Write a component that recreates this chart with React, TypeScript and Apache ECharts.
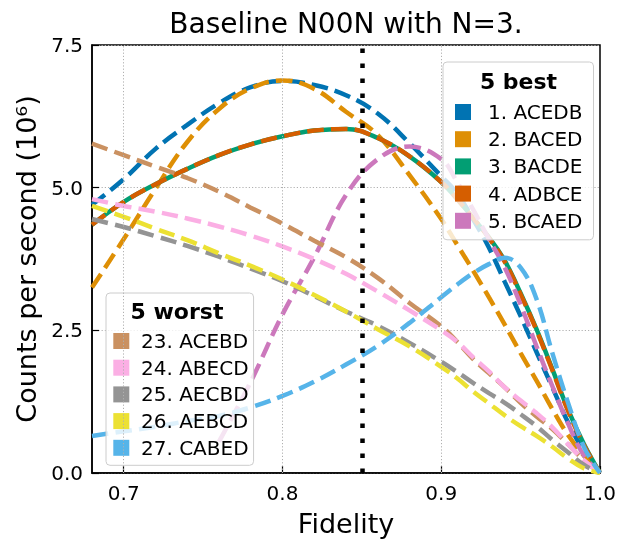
import React, { useEffect, useRef } from "react";
import * as echarts from "echarts";

// Fidelity grid (x values)
const fidelity = [0.68, 0.70, 0.72, 0.74, 0.76, 0.78, 0.80, 0.82, 0.84, 0.86, 0.88, 0.90, 0.91, 0.92, 0.93, 0.94, 0.95, 0.96, 0.97, 0.98, 0.99, 1.00];

// 5 best (counts per second, 10^6)
const acedb = [4.7, 5.15, 5.68, 6.1, 6.48, 6.76, 6.87, 6.8, 6.62, 6.3, 5.78, 5.2, 4.9, 4.45, 3.95, 3.35, 2.75, 2.12, 1.5, 0.88, 0.38, 0];
const baced = [3.25, 4.1, 4.98, 5.8, 6.38, 6.74, 6.88, 6.73, 6.33, 5.92, 5.22, 4.45, 4.0, 3.55, 3.08, 2.6, 2.1, 1.62, 1.12, 0.66, 0.3, 0];
const bacde = [4.35, 4.75, 5.06, 5.33, 5.57, 5.76, 5.9, 6.0, 6.03, 5.87, 5.55, 5.1, 4.8, 4.47, 4.13, 3.72, 3.15, 2.52, 1.82, 1.1, 0.5, 0];
const adbce = [4.35, 4.75, 5.06, 5.33, 5.57, 5.76, 5.9, 6.0, 6.03, 5.87, 5.55, 5.1, 4.8, 4.47, 4.12, 3.7, 3.13, 2.5, 1.8, 1.08, 0.48, 0];
const bcaed = [null, null, null, null, 0.55, 1.6, 2.78, 3.78, 4.87, 5.5, 5.72, 5.5, 5.1, 4.62, 4.1, 3.6, 2.95, 2.22, 1.52, 0.86, 0.3, 0];

// 5 worst
const acebd = [5.77, 5.57, 5.37, 5.17, 4.93, 4.65, 4.37, 4.07, 3.78, 3.42, 2.98, 2.57, 2.3, 2.0, 1.75, 1.5, 1.23, 0.99, 0.77, 0.5, 0.22, 0];
const abecd = [4.8, 4.68, 4.58, 4.46, 4.32, 4.16, 3.97, 3.75, 3.49, 3.18, 2.85, 2.5, 2.3, 2.03, 1.78, 1.5, 1.27, 1.05, 0.8, 0.5, 0.22, 0];
const aecbd = [4.45, 4.31, 4.15, 3.98, 3.79, 3.58, 3.36, 3.1, 2.83, 2.58, 2.28, 1.95, 1.77, 1.58, 1.4, 1.23, 1.03, 0.82, 0.58, 0.36, 0.14, 0];
const aebcd = [4.68, 4.49, 4.28, 4.08, 3.85, 3.63, 3.39, 3.12, 2.83, 2.52, 2.22, 1.86, 1.66, 1.43, 1.22, 1.01, 0.82, 0.65, 0.46, 0.25, 0.08, 0];
const cabed = [0.65, 0.73, 0.81, 0.91, 1.0, 1.15, 1.35, 1.6, 1.9, 2.23, 2.63, 3.08, 3.3, 3.5, 3.66, 3.77, 3.6, 3.05, 2.1, 1.22, 0.45, 0];

const bestNames = ["1. ACEDB", "2. BACED", "3. BACDE", "4. ADBCE", "5. BCAED"];
const worstNames = ["23. ACEBD", "24. ABECD", "25. AECBD", "26. AEBCD", "27. CABED"];
const bestValues = [acedb, baced, bacde, adbce, bcaed];
const worstValues = [acebd, abecd, aecbd, aebcd, cabed];
const bestColors = ["#0173b2", "#de8f05", "#029e73", "#d55e00", "#cc78bc"];
const worstColors = ["#ca9161", "#fbafe4", "#949494", "#ece133", "#56b4e9"];
const bestSolid = [false, false, true, false, false];

const xTicks = [0.7, 0.8, 0.9, 1.0];
const xGrid = [0.7, 0.8, 0.9];
const cutFidelity = 0.85;

const FONT = "DejaVu Sans";

function pairs(vals: (number | null)[]) {
  const out: [number, number][] = [];
  vals.forEach((v, i) => {
    if (v !== null && v !== undefined) out.push([fidelity[i], v]);
  });
  return out;
}

function lineSeries(name: string, vals: (number | null)[], color: string, solid: boolean) {
  return {
    type: "line",
    name,
    data: pairs(vals),
    smooth: 0.4,
    symbol: "none",
    showSymbol: false,
    z: 2,
    emphasis: { disabled: true },
    itemStyle: { color },
    lineStyle: { color, width: 4.5, type: solid ? "solid" : [16.5, 7.2], cap: "butt" },
  };
}

export default function App() {
  const ref = useRef<HTMLDivElement>(null);
  useEffect(() => {
    if (!ref.current) return;
    const chart = echarts.init(ref.current, undefined, { renderer: "svg" });
    const series: any[] = [];
    series.push({
      type: "line",
      name: "grid",
      data: [],
      z: 1,
      silent: true,
      markLine: {
        silent: true,
        symbol: ["none", "none"],
        label: { show: false },
        lineStyle: { color: "#b0b0b0", width: 1, type: [1.2, 2] },
        emphasis: { disabled: true },
        data: xGrid.map((x) => ({ xAxis: x })),
      },
    });
    bestNames.forEach((n, i) => series.push(lineSeries(n, bestValues[i], bestColors[i], bestSolid[i])));
    worstNames.forEach((n, i) => series.push(lineSeries(n, worstValues[i], worstColors[i], false)));
    series.push({
      type: "line",
      name: "cut",
      data: [],
      z: 3,
      silent: true,
      markLine: {
        silent: true,
        symbol: ["none", "none"],
        label: { show: false },
        lineStyle: { color: "#000000", width: 4.5, type: [4.5, 10.5], cap: "butt" },
        emphasis: { disabled: true },
        data: [{ xAxis: cutFidelity }],
      },
    });

    const legendBase = {
      orient: "vertical",
      itemWidth: 16,
      itemHeight: 16,
      icon: "rect",
      selectedMode: false,
      backgroundColor: "rgba(255,255,255,0.8)",
      borderColor: "#cccccc",
      borderWidth: 1,
      borderRadius: 4,
      itemStyle: { borderWidth: 0 },
    };

    const option: any = {
      animation: false,
      textStyle: { fontFamily: FONT },
      title: {
        text: "Baseline N00N with N=3.",
        left: 346,
        top: 9,
        padding: 0,
        textAlign: "center",
        textStyle: { fontSize: 28, fontWeight: "normal", color: "#000", fontFamily: FONT, lineHeight: 28 },
      },
      grid: { left: 92, right: 19, top: 45, bottom: 63, show: true, borderColor: "#000", borderWidth: 1.5 },
      xAxis: {
        type: "value",
        min: 0.68,
        max: 1.0,
        axisLine: { show: true, lineStyle: { color: "#000", width: 1.5 } },
        axisTick: { show: true, inside: true, length: 7, customValues: xTicks, lineStyle: { color: "#000", width: 1.2 } },
        axisLabel: {
          customValues: xTicks,
          formatter: (v: number) => v.toFixed(1),
          fontSize: 20,
          color: "#000",
          fontFamily: FONT,
          margin: 10,
        },
        splitLine: { show: false },
        name: "Fidelity",
        nameLocation: "middle",
        nameGap: 37,
        nameTextStyle: { fontSize: 27, color: "#000", fontFamily: FONT, lineHeight: 27 },
      },
      yAxis: {
        type: "value",
        min: 0,
        max: 7.5,
        interval: 2.5,
        axisLine: { show: true, lineStyle: { color: "#000", width: 1.5 } },
        axisTick: { show: true, inside: true, length: 7, lineStyle: { color: "#000", width: 1.2 } },
        axisLabel: {
          formatter: (v: number) => v.toFixed(1),
          fontSize: 20,
          color: "#000",
          fontFamily: FONT,
          margin: 9,
        },
        splitLine: { show: true, lineStyle: { color: "#b0b0b0", width: 1, type: [1.2, 2] } },
        name: "Counts per second (10⁶)",
        nameLocation: "middle",
        nameGap: 52,
        nameTextStyle: { fontSize: 27, color: "#000", fontFamily: FONT, lineHeight: 27 },
      },
      legend: [
        {
          ...legendBase,
          left: 443,
          top: 62,
          padding: [40, 11, 9, 12],
          itemGap: 7.2,
          data: bestNames,
          textStyle: { fontSize: 20, color: "#000", fontFamily: FONT, lineHeight: 20, padding: [0, 0, 0, 12] },
        },
        {
          ...legendBase,
          left: 106,
          top: 293,
          padding: [38, 5, 7.5, 7.3],
          itemGap: 6.7,
          data: worstNames,
          textStyle: { fontSize: 20, color: "#000", fontFamily: FONT, lineHeight: 20, padding: [0, 0, 0, 6.7] },
        },
      ],
      graphic: [
        {
          type: "text",
          z: 10,
          x: 518.5,
          y: 81,
          style: { text: "5 best", fontSize: 22, fontWeight: "bold", fontFamily: FONT, fill: "#000", align: "center", verticalAlign: "middle" },
        },
        {
          type: "text",
          z: 10,
          x: 177,
          y: 311,
          style: { text: "5 worst", fontSize: 22, fontWeight: "bold", fontFamily: FONT, fill: "#000", align: "center", verticalAlign: "middle" },
        },
      ],
      series,
    };
    chart.setOption(option);
    return () => chart.dispose();
  }, []);
  return <div ref={ref} style={{ position: "fixed", left: 0, top: 0, width: 619, height: 542 }} />;
}
